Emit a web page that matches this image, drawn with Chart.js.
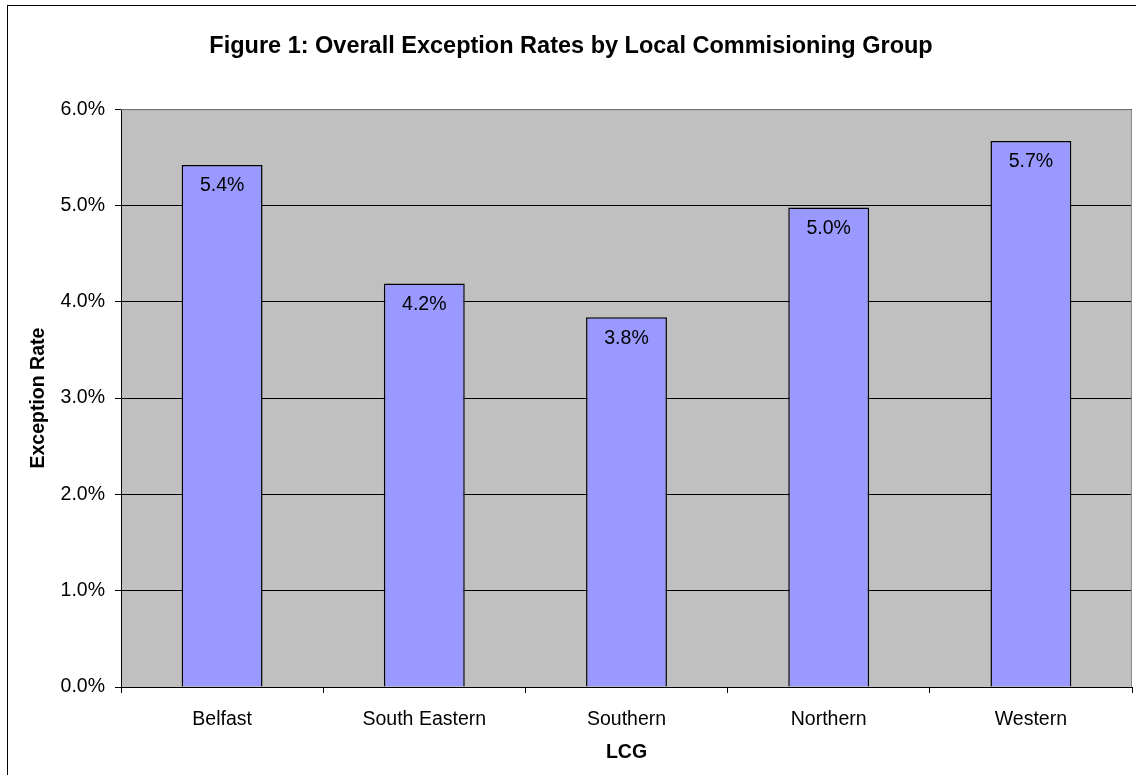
<!DOCTYPE html>
<html>
<head>
<meta charset="utf-8">
<script src="https://cdn.jsdelivr.net/npm/chart.js@4.4.1/dist/chart.umd.min.js"></script>
<style>
  body { margin: 0; background: #fff; }
  #frame { position: absolute; left: 7px; top: 5px; width: 1200px; height: 800px; border: 1px solid #000; }
  #wrap { position: absolute; left: 0; top: 0; width: 1136px; height: 775px; }
</style>
</head>
<body>
<div id="frame"></div>
<div id="wrap"><canvas id="chart"></canvas></div>
<script>
const categories = ['Belfast', 'South Eastern', 'Southern', 'Northern', 'Western'];
const exceptionRates = [5.42, 4.19, 3.84, 4.98, 5.67];
const yTicks = [0, 1, 2, 3, 4, 5, 6];

const FONT = '"Liberation Sans", Arial, sans-serif';

// gray plot background + thin gray frame
const plotBg = {
  id: 'plotBg',
  beforeDraw(chart) {
    const { ctx, chartArea: a } = chart;
    ctx.save();
    ctx.fillStyle = '#c0c0c0';
    ctx.fillRect(a.left, a.top, a.right - a.left, a.bottom - a.top);
    ctx.restore();
  },
  afterDatasetsDraw(chart) {
    const { ctx, chartArea: a } = chart;
    ctx.save();
    ctx.strokeStyle = '#8c8c8c';
    ctx.lineWidth = 1;
    ctx.beginPath();
    ctx.moveTo(a.left, a.top + 0.5);
    ctx.lineTo(a.right - 0.5, a.top + 0.5);
    ctx.lineTo(a.right - 0.5, a.bottom);
    ctx.stroke();
    ctx.restore();
  }
};

// value labels inside the top of each bar
const valueLabels = {
  id: 'valueLabels',
  afterDatasetsDraw(chart) {
    const { ctx } = chart;
    const meta = chart.getDatasetMeta(0);
    ctx.save();
    ctx.font = '19.5px ' + FONT;
    ctx.fillStyle = '#000';
    ctx.textAlign = 'center';
    ctx.textBaseline = 'middle';
    meta.data.forEach((bar, i) => {
      ctx.fillText(exceptionRates[i].toFixed(1) + '%', bar.x, bar.y + 21);
    });
    ctx.restore();
  }
};

new Chart(document.getElementById('chart'), {
  type: 'bar',
  data: {
    labels: categories,
    datasets: [{
      data: exceptionRates,
      backgroundColor: '#9999ff',
      borderColor: '#000',
      borderWidth: 1.5,
      barPercentage: 0.4,
      categoryPercentage: 1
    }]
  },
  options: {
    responsive: true,
    maintainAspectRatio: false,
    animation: false,
    layout: { padding: { left: 10, right: 4, top: 0, bottom: 0 } },
    plugins: {
      legend: { display: false },
      tooltip: { enabled: false },
      title: {
        display: true,
        text: 'Figure 1: Overall Exception Rates by Local Commisioning Group',
        color: '#000',
        font: { family: FONT, size: 23.5, weight: 'bold' },
        padding: { top: 32, bottom: 49 }
      }
    },
    scales: {
      x: {
        grid: { display: true, drawOnChartArea: false, offset: true, tickLength: 6, color: '#000' },
        border: { display: true, color: '#000', width: 1 },
        ticks: { color: '#000', font: { family: FONT, size: 19.5 }, padding: 15 },
        title: {
          display: true, text: 'LCG', color: '#000',
          font: { family: FONT, size: 19.5, weight: 'bold' },
          padding: { top: 0, bottom: 11 }
        },
        afterFit(scale) { scale.height = 88; }
      },
      y: {
        min: 0,
        max: 6,
        afterBuildTicks(scale) { scale.ticks = yTicks.map(v => ({ value: v })); },
        grid: { color: '#000', tickLength: 6, lineWidth: 1 },
        border: { display: true, color: '#000', width: 1 },
        ticks: {
          color: '#000', font: { family: FONT, size: 19.5 }, padding: 10,
          callback: v => v.toFixed(1) + '%'
        },
        title: {
          display: true, text: 'Exception Rate', color: '#000',
          font: { family: FONT, size: 19.5, weight: 'bold' },
          padding: { top: 17, bottom: 0 }
        },
        afterFit(scale) { scale.width = 111; }
      }
    }
  },
  plugins: [plotBg, valueLabels]
});
</script>
</body>
</html>
